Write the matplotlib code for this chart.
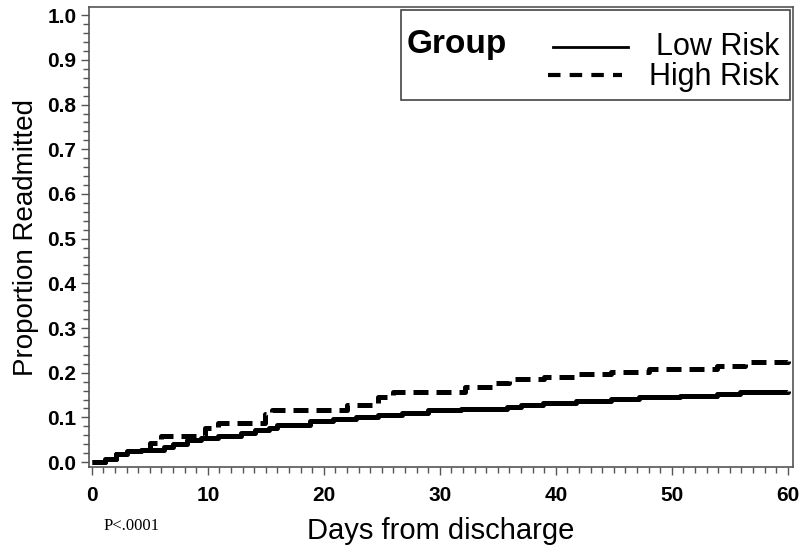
import numpy as np
import matplotlib.pyplot as plt
from matplotlib.lines import Line2D
from matplotlib.patches import Rectangle
from matplotlib.ticker import MultipleLocator

# step points (day, cumulative proportion readmitted)
low_days = [0, 1.1, 2.1, 3.0, 4.2, 6.2, 7.0, 8.2, 9.4, 10.9, 12.9, 14.1, 15.3, 16.0,
            18.8, 20.8, 22.8, 24.7, 26.7, 29.0, 31.8, 35.8, 37.0, 38.9, 41.7, 44.8,
            47.2, 50.7, 53.9, 55.9, 60]
low_prop = [0.0, 0.008, 0.019, 0.024, 0.028, 0.034, 0.040, 0.049, 0.054, 0.058, 0.065,
            0.071, 0.077, 0.083, 0.091, 0.096, 0.102, 0.106, 0.111, 0.116, 0.119, 0.124,
            0.128, 0.133, 0.137, 0.141, 0.146, 0.149, 0.153, 0.157, 0.159]

high_days = [0, 1.1, 2.1, 3.0, 4.2, 5.0, 6.0, 9.8, 10.9, 14.9, 15.5, 22.0, 24.7, 26.0,
             32.2, 34.6, 36.0, 39.0, 42.0, 44.8, 48.0, 53.9, 56.3, 60]
high_prop = [0.0, 0.008, 0.019, 0.024, 0.030, 0.043, 0.058, 0.077, 0.088, 0.107, 0.116,
             0.128, 0.146, 0.157, 0.167, 0.177, 0.186, 0.190, 0.198, 0.201, 0.209, 0.216,
             0.224, 0.227]

fig = plt.figure(figsize=(8, 5.54), dpi=100)
ax = fig.add_axes([0.111, 0.157, 0.880, 0.830])

ax.step(low_days, low_prop, where='post', color='black', lw=3.6, solid_capstyle='butt')
ax.step(high_days, high_prop, where='post', color='black', lw=3.6,
        dashes=(3, 1.6), dash_capstyle='butt')

ax.set_xlim(-0.26, 60.43)
ax.set_ylim(-0.011, 1.018)
ax.xaxis.set_major_locator(MultipleLocator(10))
ax.xaxis.set_minor_locator(MultipleLocator(1))
ax.yaxis.set_major_locator(MultipleLocator(0.1))
ax.yaxis.set_minor_locator(MultipleLocator(0.02))
ax.yaxis.set_major_formatter(plt.FuncFormatter(lambda v, p: f'{v:.1f}'))
ax.tick_params(which='both', direction='out', color='#555555', width=1)
ax.tick_params(which='major', length=6, labelsize=15)
ax.tick_params(which='minor', length=4)
ax.tick_params(axis='x', pad=8)
ax.tick_params(axis='y', pad=3)
for lab in ax.get_xticklabels() + ax.get_yticklabels():
    lab.set_fontweight('bold')
    lab.set_family('Liberation Sans')
for s in ax.spines.values():
    s.set_color('#555555')
    s.set_linewidth(1.2)

ax.set_ylabel('Proportion Readmitted', fontsize=20, family='Liberation Sans', labelpad=6)
ax.set_xlabel('Days from discharge', fontsize=21, family='Liberation Sans', labelpad=8)
fig.text(104 / 800, 1 - 526 / 554, 'P<.0001', fontsize=12, family='Liberation Serif',
         va='center', ha='left')

# legend box drawn by hand to match the layout
ax.add_patch(Rectangle((0.443, 0.799), 0.553, 0.194, transform=ax.transAxes,
                       fill=False, edgecolor='#444444', lw=1.2, zorder=5))
ax.text(0.451, 0.918, 'Group', transform=ax.transAxes, fontsize=24, fontweight='bold',
        family='Liberation Sans', va='center', ha='left')
ax.add_line(Line2D([0.659, 0.766], [0.914, 0.914], transform=ax.transAxes,
                   color='black', lw=2))
ax.add_line(Line2D([0.652, 0.758], [0.853, 0.853], transform=ax.transAxes,
                   color='black', lw=3, dashes=(3, 2.2), dash_capstyle='butt'))
ax.text(0.981, 0.914, 'Low Risk', transform=ax.transAxes, fontsize=22,
        family='Liberation Sans', va='center', ha='right')
ax.text(0.981, 0.848, 'High Risk', transform=ax.transAxes, fontsize=22,
        family='Liberation Sans', va='center', ha='right')

fig.savefig('out.png', dpi=100)
